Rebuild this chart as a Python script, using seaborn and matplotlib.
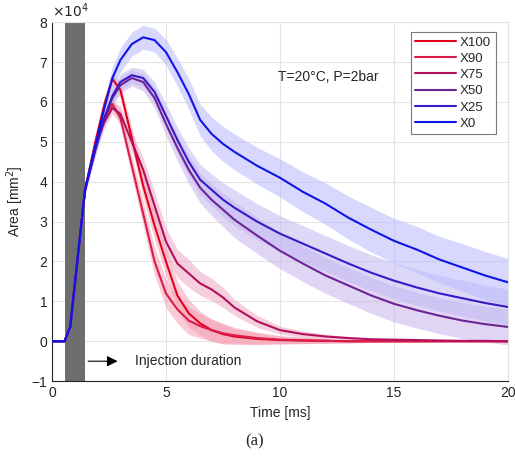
import numpy as np
import pandas as pd
import matplotlib
matplotlib.use("Agg")
import matplotlib.pyplot as plt
import seaborn as sns

# time axis [ms] and spray area [x1e4 mm^2]
t = [0, 0.55, 0.8, 1.1, 1.45, 1.9, 2.3, 2.65, 3.0, 3.5, 4.0, 4.5, 5.0, 5.5, 6.0, 6.5,
     7.0, 7.5, 8.0, 9.0, 10, 11, 12, 13, 14, 15, 16, 17, 18, 19, 20]

x100 = [0, 0, 0.36, 1.95, 3.8, 5.0, 5.95, 6.58, 6.3, 5.1, 3.9, 2.9, 2.0, 1.15, 0.7, 0.45,
        0.28, 0.18, 0.12, 0.06, 0.03, 0.02, 0.01, 0, 0, 0, 0, 0, 0, 0, 0]
x90 = [0, 0, 0.36, 1.95, 3.8, 4.95, 5.6, 5.95, 5.6, 4.4, 3.2, 2.0, 1.2, 0.8, 0.52, 0.38,
       0.28, 0.2, 0.15, 0.08, 0.04, 0.02, 0.01, 0, 0, 0, 0, 0, 0, 0, 0]
x75 = [0, 0, 0.36, 1.95, 3.8, 4.9, 5.5, 5.85, 5.7, 5.0, 4.3, 3.4, 2.5, 1.95, 1.7, 1.45,
       1.3, 1.1, 0.85, 0.5, 0.28, 0.18, 0.12, 0.08, 0.05, 0.04, 0.03, 0.02, 0.01, 0.01, 0]
x50 = [0, 0, 0.36, 1.95, 3.8, 4.8, 5.6, 6.1, 6.42, 6.6, 6.5, 6.1, 5.45, 4.85, 4.3, 3.85,
       3.55, 3.3, 3.05, 2.65, 2.27, 1.95, 1.65, 1.4, 1.15, 0.94, 0.78, 0.64, 0.52, 0.43, 0.36]
x25 = [0, 0, 0.36, 1.95, 3.8, 4.8, 5.6, 6.15, 6.5, 6.67, 6.6, 6.25, 5.65, 5.05, 4.5, 4.05,
       3.8, 3.55, 3.35, 3.0, 2.7, 2.45, 2.2, 1.95, 1.72, 1.52, 1.35, 1.2, 1.08, 0.96, 0.86]
x0 = [0, 0, 0.36, 1.95, 3.8, 4.9, 5.85, 6.6, 7.05, 7.45, 7.62, 7.55, 7.25, 6.75, 6.2, 5.55,
      5.2, 4.95, 4.75, 4.4, 4.1, 3.75, 3.45, 3.1, 2.8, 2.52, 2.3, 2.05, 1.85, 1.65, 1.48]

# spread (half width of the shaded band)
sd_red = [0, 0, 0.05, 0.1, 0.12, 0.15, 0.15, 0.15, 0.2, 0.25, 0.3, 0.35, 0.35, 0.35, 0.35, 0.3,
          0.28, 0.25, 0.2, 0.15, 0.1, 0.08, 0.06, 0.04, 0.03, 0.02, 0.02, 0.01, 0.01, 0.01, 0.01]
sd_purple = [0, 0, 0.05, 0.1, 0.12, 0.15, 0.18, 0.2, 0.2, 0.2, 0.22, 0.25, 0.3, 0.32, 0.35, 0.38,
             0.4, 0.42, 0.45, 0.45, 0.45, 0.45, 0.45, 0.45, 0.45, 0.45, 0.45, 0.45, 0.45, 0.45, 0.45]
sd_blue = [0, 0, 0.05, 0.1, 0.12, 0.2, 0.25, 0.28, 0.3, 0.3, 0.3, 0.3, 0.32, 0.35, 0.38, 0.4,
           0.42, 0.44, 0.45, 0.46, 0.48, 0.5, 0.52, 0.54, 0.56, 0.56, 0.58, 0.58, 0.6, 0.6, 0.6]

labels = ["X100", "X90", "X75", "X50", "X25", "X0"]
series = [x100, x90, x75, x50, x25, x0]
spreads = [sd_red, sd_red, sd_red, sd_purple, sd_purple, sd_blue]
colors = ["#e4001c", "#d81c4c", "#b0105c", "#6c2494", "#3a18c8", "#1014e6"]
band_colors = ["#f6a0b4", "#f6a0b4", "#f0a8c4", "#c8b4ec", "#c0b8f4", "#b8b8ff"]

df = pd.DataFrame({
    "Time": np.tile(t, len(labels)),
    "Area": np.concatenate(series),
    "case": np.repeat(labels, len(t)),
})

sns.set_style("whitegrid")
plt.rcParams["font.family"] = ["Liberation Sans", "DejaVu Sans"]

fig = plt.figure(figsize=(5.15, 4.62), dpi=100)
ax = fig.add_axes([0.101, 0.175, 0.885, 0.777])

ax.axvspan(0.55, 1.45, color="#6e6e6e", zorder=1, lw=0)

for s, sd, bc in zip(series, spreads, band_colors):
    s = np.array(s)
    sd = np.array(sd)
    ax.fill_between(t, s - sd, s + sd, color=bc, alpha=0.55, lw=0, zorder=2)

sns.lineplot(data=df, x="Time", y="Area", hue="case", hue_order=labels,
             palette=colors, lw=1.5, ax=ax, zorder=3)

ax.set_xlim(0, 20)
ax.set_ylim(-1, 8)
ax.set_xticks([0, 5, 10, 15, 20])
ax.set_yticks(range(-1, 9))
ax.tick_params(labelsize=10, colors="#262626", direction="in", length=3)
ax.grid(color="#e3e3e3", lw=0.8)
for sp in ax.spines.values():
    sp.set_color("#262626")
    sp.set_linewidth(0.8)
ax.spines["top"].set_color("#e3e3e3")
ax.spines["right"].set_color("#e3e3e3")

ax.set_xlabel("Time [ms]", fontsize=10, color="#262626", labelpad=4)
ax.set_ylabel("Area [mm$^2$]", fontsize=10, color="#262626", labelpad=4)
ax.text(0.0, 1.005, r"$\times10^4$", transform=ax.transAxes, fontsize=10,
        color="#262626", va="bottom", ha="left")

ax.text(9.9, 6.62, "T=20°C, P=2bar", fontsize=10, color="#262626", va="center")
ax.annotate("", xy=(3.0, -0.5), xytext=(1.46, -0.5),
            arrowprops=dict(arrowstyle="-|>", color="black", lw=0.8, mutation_scale=16))
ax.text(3.65, -0.5, "Injection duration", fontsize=10, color="#262626", va="center")

leg = ax.legend(loc="upper right", bbox_to_anchor=(0.974, 0.973), fontsize=9.5,
                frameon=True, fancybox=False, handlelength=3.1, borderpad=0.35,
                labelspacing=0.3, handletextpad=0.3, borderaxespad=0.0)
leg.get_frame().set_edgecolor("#7a7a7a")
leg.get_frame().set_linewidth(0.8)
leg.get_frame().set_alpha(1)

fig.text(0.495, 0.035, "(a)", fontsize=12, family="Liberation Serif", ha="center")

fig.savefig("out.png", dpi=100)
